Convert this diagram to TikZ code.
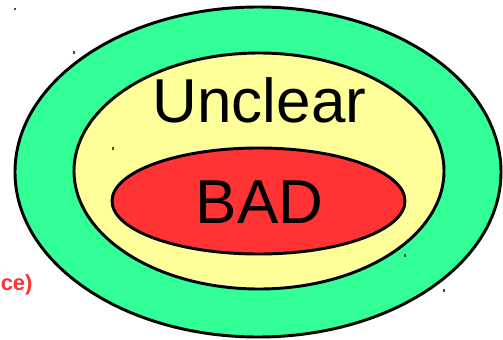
\documentclass[tikz,border=0pt]{standalone}
\usepackage{fontspec}
\setmainfont{Liberation Sans}
\definecolor{ringgreen}{RGB}{51,255,153}
\definecolor{ringyellow}{RGB}{255,255,153}
\definecolor{ringred}{RGB}{255,51,51}
\definecolor{notered}{RGB}{255,51,51}
\begin{document}
\begin{tikzpicture}[x=0.75pt,y=-0.75pt,
  ring/.style={draw=black,line width=2.2pt},
  bigtext/.style={anchor=base,inner sep=0pt,font=\fontsize{46.5pt}{50pt}\selectfont},
  tick/.style={draw=black!70,line width=0.8pt}]
\useasboundingbox (0,0) rectangle (503,339);
\clip (0,0) rectangle (503,339);
\path[ring,fill=ringgreen] (258,172) ellipse [x radius=243, y radius=165];
\path[ring,fill=ringyellow] (259,171) ellipse [x radius=185, y radius=118];
\path[ring,fill=ringred] (258.5,201) ellipse [x radius=146.5, y radius=53];
\node[bigtext] (unclear) at (259.5,122) {Unclear};
\node[bigtext] (bad) at (259.5,223) {BAD};
\node[anchor=base west,inner sep=0pt,text=notered,font=\fontsize{16.5pt}{20pt}\selectfont\bfseries] (note) at (0.5,290) {ce)};
\draw[tick] (15,8) -- (15,10);
\draw[tick] (74,51) -- (74,54);
\draw[tick] (113,147) -- (113,150);
\draw[tick] (405,254) -- (405,257);
\draw[tick] (444,289) -- (444,292);
\end{tikzpicture}
\end{document}
